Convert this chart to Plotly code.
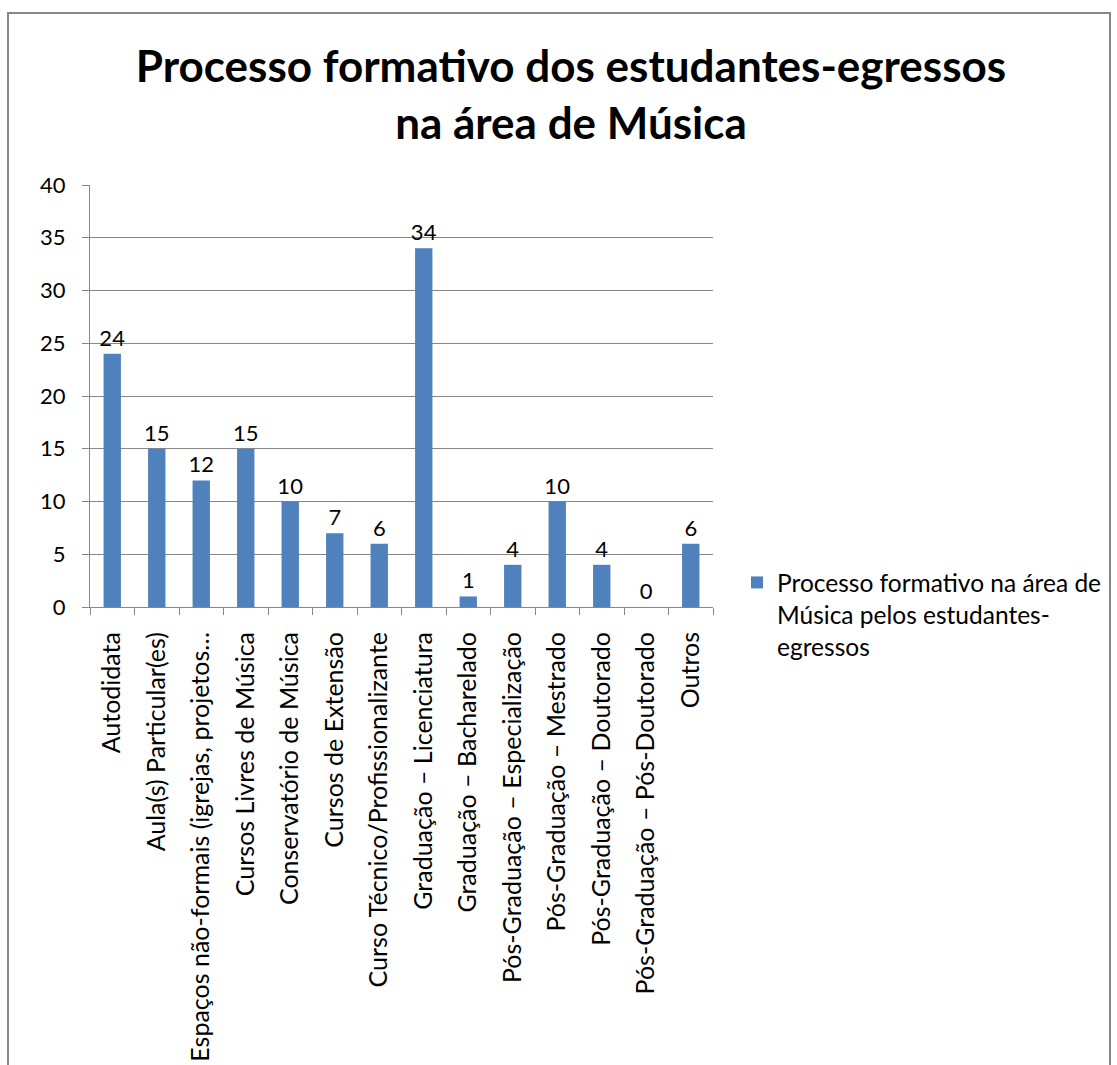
import plotly.graph_objects as go

categories = [
    "Autodidata",
    "Aula(s) Particular(es)",
    "Espaços não-formais (igrejas, projetos…",
    "Cursos Livres de Música",
    "Conservatório de Música",
    "Cursos de Extensão",
    "Curso Técnico/Profissionalizante",
    "Graduação – Licenciatura",
    "Graduação – Bacharelado",
    "Pós-Graduação – Especialização",
    "Pós-Graduação – Mestrado",
    "Pós-Graduação – Doutorado",
    "Pós-Graduação – Pós-Doutorado",
    "Outros",
]
values = [24, 15, 12, 15, 10, 7, 6, 34, 1, 4, 10, 4, 0, 6]
series_name = "Processo formativo na área de<br>Música pelos estudantes-<br>egressos"
title_text = "Processo formativo dos estudantes-egressos<br>na área de Música"
y_ticks = [0, 5, 10, 15, 20, 25, 30, 35, 40]

FONT = "Lato"
GRID = "#878787"

fig = go.Figure()
fig.add_trace(go.Bar(
    x=categories,
    y=values,
    name=series_name,
    marker=dict(color="#4F81BD", line=dict(width=0)),
    width=0.39,
    text=[str(v) for v in values],
    textposition="outside",
    constraintext="none",
    textfont=dict(family=FONT, size=22, color="black"),
    cliponaxis=False,
    showlegend=True,
))

W, H = 1117, 1065
L, R, T, B = 90, 713, 185, 607
pw, ph = R - L, B - T

def px(x):
    return (x - L) / pw

def py(y):
    return (B - y) / ph

fig.update_layout(
    width=W, height=H,
    margin=dict(l=L, r=W - R, t=T, b=H - B, pad=0, autoexpand=False),
    paper_bgcolor="white",
    plot_bgcolor="white",
    font=dict(family=FONT, color="black"),
    title=dict(
        text=title_text,
        font=dict(family=FONT, size=44, color="black", weight="bold"),
        x=571 / W, xanchor="center",
        y=1 - 82 / H, yanchor="top",
        xref="container", yref="container",
    ),
    showlegend=True,
    legend=dict(
        x=px(737), xanchor="left",
        y=py(560), yanchor="top",
        valign="top",
        font=dict(family=FONT, size=24.5, color="black"),
        bgcolor="rgba(0,0,0,0)",
        itemwidth=30,
    ),
    xaxis=dict(
        tickangle=-90,
        tickfont=dict(family=FONT, size=25, color="black"),
        showline=True, linecolor=GRID, linewidth=1,
        ticks="outside", ticklen=7, tickcolor=GRID,
        tickson="boundaries",
        showgrid=False,
        range=[-0.5, 13.5],
        ticklabelstandoff=14,
        automargin=False,
    ),
    yaxis=dict(
        range=[0, 40],
        tickvals=y_ticks,
        tickfont=dict(family=FONT, size=22, color="black"),
        showline=True, linecolor=GRID, linewidth=1,
        ticks="outside", ticklen=7, tickcolor=GRID,
        showgrid=True, gridcolor=GRID, gridwidth=1,
        zeroline=False,
        ticklabelstandoff=12,
        automargin=False,
    ),
    shapes=[dict(
        type="rect", xref="paper", yref="paper",
        x0=px(8), x1=px(1110), y0=py(1075), y1=py(13),
        line=dict(color="#878787", width=2),
        fillcolor="rgba(0,0,0,0)", layer="below",
    )],
)

fig.write_html("out.html")
